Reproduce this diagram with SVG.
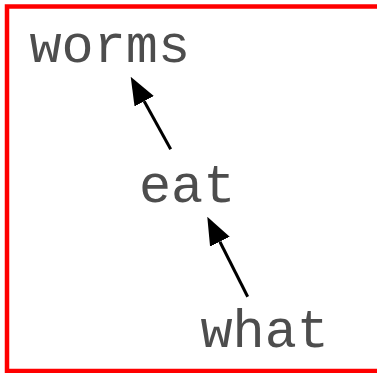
<svg xmlns="http://www.w3.org/2000/svg" width="377" height="373" viewBox="0 0 377 373">
<style>
.lbl{font-family:"Nimbus Mono PS","Liberation Mono","Courier New",monospace;font-size:53.5px;fill:#4d4d4d}
.edge{stroke:#000;stroke-width:3;fill:none;marker-end:url(#ah)}
</style>
<defs>
<marker id="ah" viewBox="0 0 28 22" markerWidth="28" markerHeight="22" markerUnits="userSpaceOnUse" refX="0" refY="11" orient="auto">
<path d="M0,0 L28,11 L0,22 z" fill="#000"/>
</marker>
</defs>
<rect x="7" y="6.5" width="380" height="364.5" fill="#fff" stroke="#f00" stroke-width="4.5"/>
<g id="worms"><text class="lbl" x="29.5" y="62">worms</text></g>
<g id="eat"><text class="lbl" x="139" y="202">eat</text></g>
<g id="what"><text class="lbl" x="200.5" y="347">what</text></g>
<g id="edges">
<line class="edge" x1="170.7" y1="149.3" x2="144.2" y2="101.2"/>
<line class="edge" x1="247.7" y1="296.7" x2="219.9" y2="241.7"/>
</g>
</svg>
